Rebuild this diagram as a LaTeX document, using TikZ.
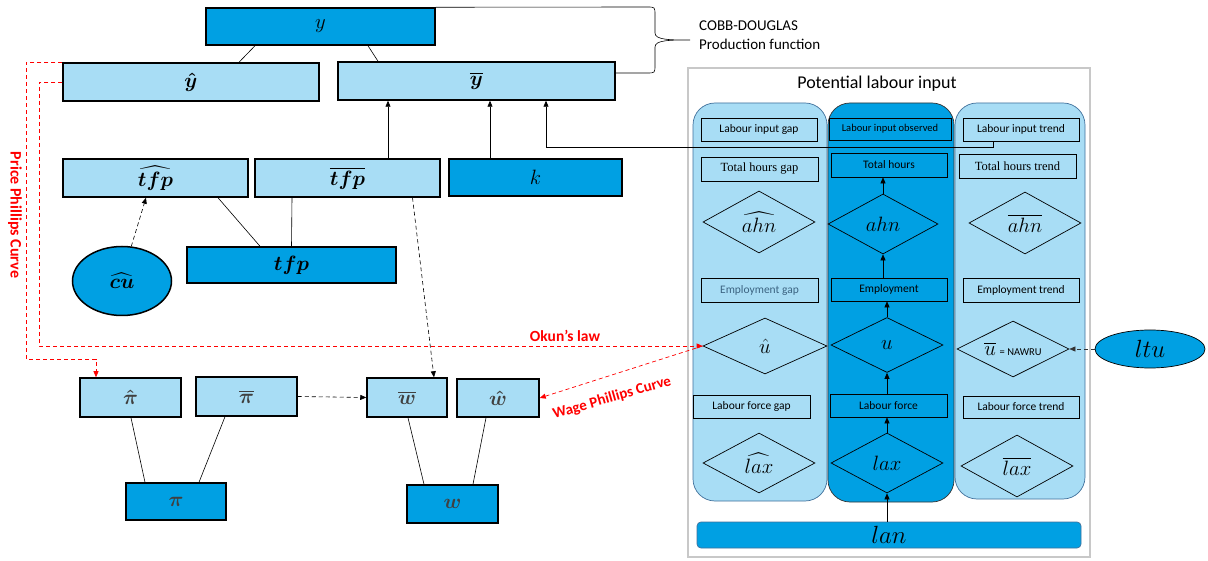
\documentclass[tikz,border=0pt]{standalone}
\usepackage{amsmath}
\usepackage{fontspec}
\setmainfont{Carlito}
\newfontfamily\cambriafont{Liberation Serif}
\usetikzlibrary{shapes.geometric,arrows.meta}

\definecolor{darkblue}{RGB}{0,160,227}
\definecolor{lightblue}{RGB}{168,221,245}
\definecolor{colborder}{RGB}{65,113,156}
\definecolor{panelgray}{RGB}{200,200,200}
\definecolor{empgray}{RGB}{60,100,130}

\begin{document}
\begin{tikzpicture}[x=1pt, y=-1pt]
		\tikzset{
			every node/.style={
				align=center,
				inner sep=0pt
			},
			bigbox/.style={
				rectangle,
				draw,
				line width=1.5pt,
				fill=lightblue,
				font=\fontsize{22}{24}\selectfont
			},
			obsbox/.style={
				bigbox,
				fill=darkblue
			},
			smallbox/.style={
				rectangle,
				draw,
				line width=0.7pt,
				font=\fontsize{11.5}{13}\selectfont
			},
			serifbox/.style={
				smallbox,
				font=\cambriafont\fontsize{12.5}{14}\selectfont
			},
			dia/.style={
				diamond,
				draw,
				aspect=2,
				line width=0.7pt,
				minimum width=112,
				minimum height=60,
				font=\fontsize{22}{24}\selectfont
			},
			column/.style={
				rectangle,
				rounded corners=22pt,
				draw=colborder,
				line width=0.7pt,
				fill=lightblue
			},
			line/.style={
				line width=0.6pt
			},
			arr/.style={
				-{Triangle[length=6pt,width=5pt]},
				line width=0.6pt
			},
			dasharr/.style={
				arr,
				dash pattern=on 4pt off 3pt
			},
			redarr/.style={
				-{Triangle[length=6pt,width=5pt]},
				red,
				line width=0.7pt,
				dash pattern=on 4pt off 3pt
			},
			redlabel/.style={
				text=red,
				font=\bfseries\fontsize{16}{18}\selectfont
			}
		}

		\fill[white] (0,0) rectangle (1208,561);
		\useasboundingbox (0,0) rectangle (1208,561);

		% production function
		\node[obsbox, minimum width=229, minimum height=37] (y) at (320.5, 26.5)
			{$y$};
		\node[bigbox, minimum width=256, minimum height=38] (yhat) at (191, 82)
			{$\boldsymbol{\hat{y}}$};
		\node[bigbox, minimum width=277, minimum height=38] (ybar) at (476.5, 81)
			{$\boldsymbol{\overline{y}}$};

		\node[bigbox, minimum width=185, minimum height=38] (tfphat) at (155.5, 178)
			{$\boldsymbol{\widehat{tfp}}$};
		\node[bigbox, minimum width=185, minimum height=38] (tfpbar) at (347.5, 178)
			{$\boldsymbol{\overline{tfp}}$};
		\node[obsbox, minimum width=173, minimum height=37] (k) at (535.5, 177.5)
			{$k$};
		\node[obsbox, minimum width=209, minimum height=36] (tfp) at (291.5, 265)
			{$\boldsymbol{tfp}$};
		\node[obsbox, ellipse, minimum width=99, minimum height=69] (cuhat) at (122, 281)
			{$\boldsymbol{\widehat{cu}}$};

		\node[font=\fontsize{15}{19}\selectfont, align=left, anchor=west] (cobb) at (699, 35)
			{COBB-DOUGLAS\\Production function};
		\coordinate (bracetip) at (690, 40);

		% prices and wages
		\node[bigbox, text=black!75, minimum width=101, minimum height=39] (pihat) at (130.5, 397.5)
			{$\boldsymbol{\hat{\pi}}$};
		\node[bigbox, text=black!75, minimum width=101, minimum height=39] (pibar) at (246.5, 396.5)
			{$\boldsymbol{\overline{\pi}}$};
		\node[bigbox, text=black!75, minimum width=80, minimum height=39] (wbar) at (407, 397.5)
			{$\boldsymbol{\overline{w}}$};
		\node[bigbox, text=black!75, minimum width=82, minimum height=38] (what) at (498, 398)
			{$\boldsymbol{\hat{w}}$};
		\node[obsbox, text=black!75, minimum width=100, minimum height=37] (pi) at (176, 501.5)
			{$\boldsymbol{\pi}$};
		\node[obsbox, text=black!75, minimum width=91, minimum height=38] (w) at (452.5, 504)
			{$\boldsymbol{w}$};

		% potential labour input
		\node[draw=panelgray, line width=1.5pt, minimum width=402, minimum height=489] (panel) at (889, 312.5)
			{};
		\node[font=\fontsize{18}{20}\selectfont] (title) at (877, 84)
			{Potential labour input};

		\node[column, minimum width=134, minimum height=398] (colgap) at (760, 302)
			{};
		\node[column, fill=darkblue, draw=black!80, minimum width=126, minimum height=399] (colobs) at (891, 302.5)
			{};
		\node[column, minimum width=130, minimum height=396] (coltrend) at (1020, 301)
			{};
		\node[obsbox, rounded corners=4pt, line width=0.7pt, draw=colborder, font=\fontsize{23}{25}\selectfont,
			minimum width=384, minimum height=26] (lan) at (889, 535)
			{$lan$};

		\node[smallbox, minimum width=116, minimum height=23] (ligap) at (759, 129.5)
			{Labour input gap};
		\node[serifbox, minimum width=117, minimum height=24] (thgap) at (759.5, 169)
			{Total hours gap};
		\node[dia, minimum height=62] (ahngap) at (759, 222)
			{$\widehat{ahn}$};
		\node[smallbox, text=empgray, minimum width=117, minimum height=24] (empgap) at (759.5, 290)
			{Employment gap};
		\node[dia, minimum width=124, minimum height=56] (ugap) at (765, 346)
			{$\hat{u}$};
		\node[smallbox, minimum width=117, minimum height=23] (lfgap) at (751.5, 406.5)
			{Labour force gap};
		\node[dia] (laxgap) at (759, 463)
			{$\widehat{lax}$};

		\node[smallbox, font=\fontsize{10.5}{12}\selectfont, minimum width=122, minimum height=22] (liobs) at (890, 129)
			{Labour input observed};
		\node[smallbox, minimum width=116, minimum height=24] (thobs) at (889, 165)
			{Total hours};
		\node[dia, minimum width=110] (ahnobs) at (883, 224)
			{$ahn$};
		\node[smallbox, minimum width=116, minimum height=23] (empobs) at (889, 289.5)
			{Employment};
		\node[dia, minimum height=55] (uobs) at (887, 345)
			{$u$};
		\node[smallbox, minimum width=117, minimum height=23] (lfobs) at (888.5, 405.5)
			{Labour force};
		\node[dia] (laxobs) at (887, 463)
			{$lax$};

		\node[smallbox, minimum width=116, minimum height=23] (litrend) at (1021, 129.5)
			{Labour input trend};
		\node[serifbox, minimum width=117, minimum height=24] (thtrend) at (1017.5, 166)
			{Total hours trend};
		\node[dia, minimum height=62] (ahntrend) at (1025, 223)
			{$\overline{ahn}$};
		\node[smallbox, minimum width=116, minimum height=24] (emptrend) at (1021, 290)
			{Employment trend};
		\node[dia, minimum height=56] (utrend) at (1013, 349)
			{$\overline{u}$\,{\fontsize{10.5}{12}\selectfont= NAWRU}};
		\node[smallbox, minimum width=116, minimum height=22] (lftrend) at (1021, 407)
			{Labour force trend};
		\node[dia, minimum height=62] (laxtrend) at (1017, 466)
			{$\overline{lax}$};

		\node[obsbox, ellipse, line width=0.7pt, font=\fontsize{23}{25}\selectfont,
			minimum width=110, minimum height=38] (ltu) at (1150, 349)
			{$ltu$};

		% connectors
		\draw[line] ([xshift=-65.5]y.south) -- ([xshift=48]yhat.north);
		\draw[line] ([xshift=47.5]y.south) -- ([xshift=-98.5]ybar.north);
		\draw[line] (y.north east) -- (647, 7) .. controls (655, 7) .. (655, 15) -- (655, 33)
			.. controls (655, 40) and (670, 40) .. (bracetip)
			.. controls (670, 40) and (655, 40) .. (655, 47) -- (655, 65)
			.. controls (655, 73) .. (647, 73) -- ([yshift=8]ybar.east);

		\draw[arr] ([xshift=40.5]tfpbar.north) -- ([xshift=-88.5]ybar.south);
		\draw[arr] ([xshift=-45.5]k.north) -- ([xshift=13.5]ybar.south);
		\draw[arr] ([xshift=-28]litrend.south) -- ++(0, 6) -| ([xshift=69.5]ybar.south);

		\draw[line] ([xshift=62.5]tfphat.south) -- ([xshift=-31.5]tfp.north);
		\draw[line] ([xshift=-55.5]tfpbar.south) -- (tfp.north);
		\draw[dasharr] (cuhat.75) -- ([xshift=-9.5]tfphat.south);
		\draw[dasharr] ([xshift=65]tfpbar.south) -- ([xshift=27]wbar.north);
		\draw[dasharr] (pibar.east) -- (wbar.west);

		\draw[line] ([xshift=0.5]pihat.south) -- ([xshift=-31]pi.north);
		\draw[line] ([xshift=-21.5]pibar.south) -- ([xshift=23]pi.north);
		\draw[line] ([xshift=1]wbar.south) -- ([xshift=-28.5]w.north);
		\draw[line] ([xshift=-12]what.south) -- ([xshift=20.5]w.north);

		\draw[redarr] (yhat.north west) -- ++(-36, 0) -- ++(0, 297) -| ([xshift=-34.5]pihat.north);
		\draw[redarr] (yhat.west) -- ++(-23, 0) |- (ugap.west);
		\draw[redarr] (ugap.west) -- (what.east);

		\node[redlabel, rotate=-90] (ppc) at (15, 215)
			{Price Phillips Curve};
		\node[redlabel, font=\bfseries\fontsize{15.5}{17}\selectfont] (okun) at (565, 336)
			{Okun’s law};
		\node[redlabel, font=\bfseries\fontsize{15}{17}\selectfont, rotate=16] (wpc) at (612, 398)
			{Wage Phillips Curve};

		\draw[arr] ([xshift=-2]lan.north) -- (laxobs.south);
		\draw[arr] (laxobs.north) -- (laxobs.north |- lfobs.south);
		\draw[arr] (uobs.south |- lfobs.north) -- (uobs.south);
		\draw[arr] (uobs.north) -- (uobs.north |- empobs.south);
		\draw[arr] (ahnobs.south |- empobs.north) -- (ahnobs.south);
		\draw[arr] (ahnobs.north) -- (ahnobs.north |- thobs.south);

		\draw[dasharr, draw=black!80] (ltu.west) -- (utrend.east);

	\end{tikzpicture}
\end{document}
